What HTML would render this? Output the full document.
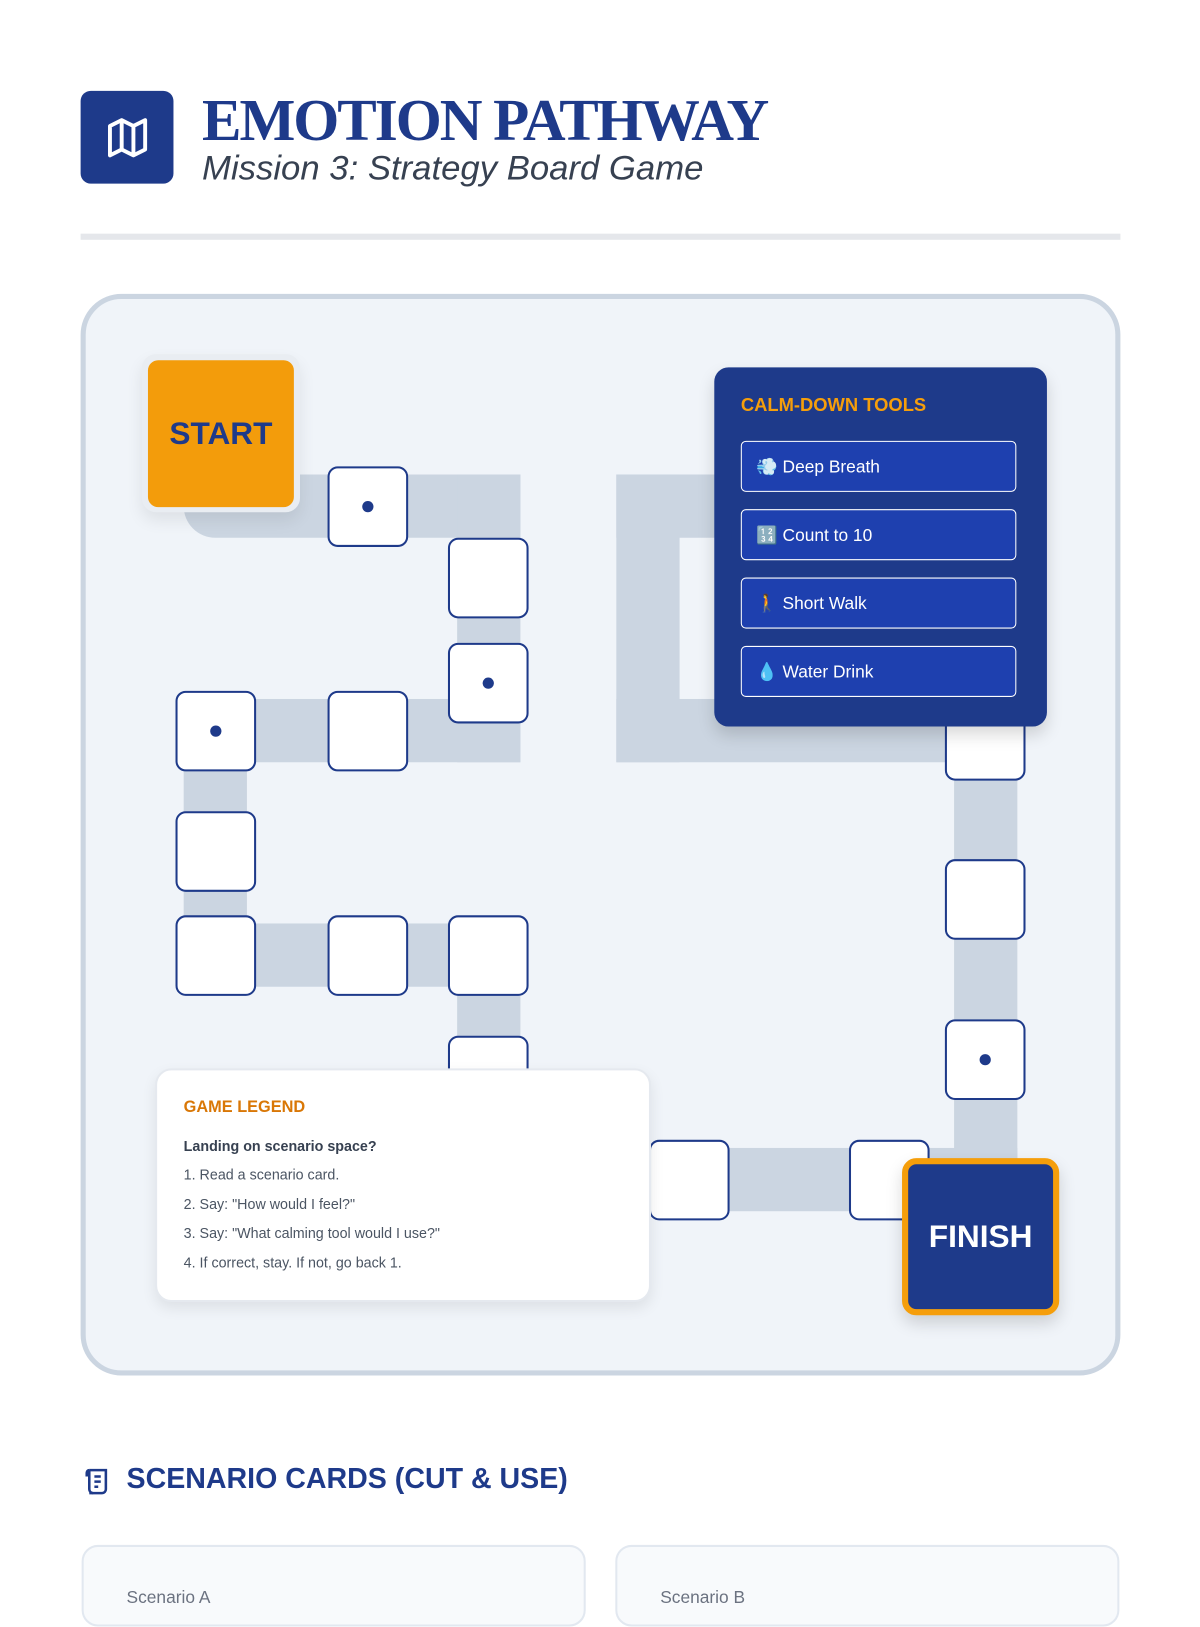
<!DOCTYPE html>
<html><head><meta charset="utf-8">
<style>
html,body{margin:0;padding:0;background:#fff;width:1200px;height:1600px;overflow:hidden}
#w{position:absolute;left:0;top:0;width:1176px;height:1568px;transform:scale(1.020408);transform-origin:0 0;font-family:"Liberation Sans",sans-serif}
.a{position:absolute}
.band{position:absolute;background:#cbd5e1}
.sp{position:absolute;width:75px;height:75px;background:#fff;border:2.5px solid #1e3a8a;border-radius:10px;box-sizing:content-box}
.sp.d::after{content:"";position:absolute;left:32px;top:32px;width:11px;height:11px;border-radius:50%;background:#1e3a8a}
.btn{position:absolute;left:726px;width:270px;height:50px;background:#1e40af;border:1.5px solid #fff;border-radius:5px;color:#fff;font-size:17px;line-height:50px;padding-left:14px;box-sizing:border-box}
.lg{position:absolute;left:180px;font-size:14px;color:#4b5563}
</style></head><body><div id="w">
<div class="a" style="left:79px;top:89px;width:91px;height:91px;background:#1e3a8a;border-radius:10px"></div>
<svg class="a" style="left:102px;top:112px" width="46" height="46" viewBox="0 0 24 24" fill="none" stroke="#fff" stroke-width="2" stroke-linejoin="round"><path d="M3 6l6-3 6 3 6-3v15l-6 3-6-3-6 3z"/><path d="M9 3v15M15 6v15"/></svg>
<div class="a" style="left:198px;top:84px;font-family:'Liberation Serif',serif;font-weight:bold;font-size:58px;color:#1e3a8a;letter-spacing:-2px;white-space:nowrap">EMOTION PATHWAY</div>
<div class="a" style="left:198px;top:146px;font-style:italic;font-size:34px;color:#374151;white-space:nowrap">Mission 3: Strategy Board Game</div>
<div class="a" style="left:79px;top:229px;width:1019px;height:6px;background:#e5e7eb"></div>

<div class="a" style="left:79px;top:288px;width:1019px;height:1060px;box-sizing:border-box;border:5px solid #cbd5e1;border-radius:40px;background:#f0f4f9"></div>

<div class="band" style="left:180px;top:465px;width:330px;height:62px;border-bottom-left-radius:31px"></div>
<div class="band" style="left:448px;top:465px;width:62px;height:282px"></div>
<div class="band" style="left:180px;top:685px;width:330px;height:62px"></div>
<div class="band" style="left:180px;top:685px;width:62px;height:282px"></div>
<div class="band" style="left:180px;top:905px;width:330px;height:62px"></div>
<div class="band" style="left:448px;top:905px;width:62px;height:150px"></div>
<div class="band" style="left:604px;top:465px;width:62px;height:282px"></div>
<div class="band" style="left:604px;top:465px;width:110px;height:62px"></div>
<div class="band" style="left:604px;top:685px;width:393px;height:62px"></div>
<div class="band" style="left:935px;top:700px;width:62px;height:487px"></div>
<div class="band" style="left:640px;top:1125px;width:357px;height:62px"></div>

<div class="a" style="left:139px;top:347px;width:155px;height:155px;border-radius:14px;background:#e9edf2;box-shadow:0 8px 16px rgba(0,0,0,.08)"></div>
<div class="a" style="left:145px;top:353px;width:143px;height:144px;border-radius:10px;background:#f39c0b;color:#1e3a8a;font-weight:bold;font-size:31px;line-height:144px;text-align:center">START</div>

<div class="sp d" style="left:321px;top:457px"></div>
<div class="sp" style="left:439px;top:527px"></div>
<div class="sp d" style="left:439px;top:630px"></div>
<div class="sp" style="left:321px;top:677px"></div>
<div class="sp d" style="left:172px;top:677px"></div>
<div class="sp" style="left:172px;top:795px"></div>
<div class="sp" style="left:172px;top:897px"></div>
<div class="sp" style="left:321px;top:897px"></div>
<div class="sp" style="left:439px;top:897px"></div>
<div class="sp" style="left:439px;top:1015px"></div>
<div class="sp" style="left:636px;top:1117px"></div>
<div class="sp" style="left:832px;top:1117px"></div>
<div class="sp d" style="left:926px;top:999px"></div>
<div class="sp" style="left:926px;top:842px"></div>
<div class="sp" style="left:926px;top:686px"></div>

<div class="a" style="left:700px;top:360px;width:326px;height:352px;background:#1e3a8a;border-radius:14px;box-shadow:0 8px 16px rgba(0,0,0,.15)"></div>
<div class="a" style="left:726px;top:387px;color:#f59e0b;font-weight:bold;font-size:18px">CALM-DOWN TOOLS</div>
<div class="btn" style="top:432px">💨 Deep Breath</div>
<div class="btn" style="top:499px">🔢 Count to 10</div>
<div class="btn" style="top:566px">🚶 Short Walk</div>
<div class="btn" style="top:633px">💧 Water Drink</div>

<div class="a" style="left:152px;top:1047px;width:486px;height:229px;background:#fff;border:2px solid #e5e9ef;box-sizing:border-box;border-radius:16px;box-shadow:0 6px 14px rgba(0,0,0,.08)"></div>
<div class="a" style="left:180px;top:1077px;color:#d97706;font-weight:bold;font-size:16px">GAME LEGEND</div>
<div class="lg" style="top:1115px;font-weight:bold;color:#374151">Landing on scenario space?</div>
<div class="lg" style="top:1143px">1. Read a scenario card.</div>
<div class="lg" style="top:1172px">2. Say: "How would I feel?"</div>
<div class="lg" style="top:1200px">3. Say: "What calming tool would I use?"</div>
<div class="lg" style="top:1229px">4. If correct, stay. If not, go back 1.</div>

<div class="a" style="left:884px;top:1135px;width:154px;height:154px;box-sizing:border-box;border:6px solid #f59e0b;border-radius:14px;background:#1e3a8a;color:#fff;font-weight:bold;font-size:31px;line-height:142px;text-align:center;box-shadow:0 8px 16px rgba(0,0,0,.15)">FINISH</div>

<svg class="a" style="left:80px;top:1437px" width="30" height="30" viewBox="0 0 24 24" fill="none" stroke="#1e3a8a" stroke-width="2"><path d="M6 3h13v15a3 3 0 0 1-3 3H6"/><path d="M6 3a2 2 0 0 0-2 2v2h2M6 3v15a3 3 0 0 0 3 3"/><path d="M10 8h5M10 12h5M10 16h3"/></svg>
<div class="a" style="left:124px;top:1433px;color:#1e3a8a;font-weight:bold;font-size:28px;white-space:nowrap">SCENARIO CARDS (CUT &amp; USE)</div>
<div class="a" style="left:80px;top:1514px;width:494px;height:80px;background:#f8fafc;border:2px solid #e2e8f0;border-radius:16px;box-sizing:border-box"></div>
<div class="a" style="left:603px;top:1514px;width:494px;height:80px;background:#f8fafc;border:2px solid #e2e8f0;border-radius:16px;box-sizing:border-box"></div>
<div class="a" style="left:124px;top:1556px;color:#6b7280;font-size:17px">Scenario A</div>
<div class="a" style="left:647px;top:1556px;color:#6b7280;font-size:17px">Scenario B</div>
</div></body></html>
